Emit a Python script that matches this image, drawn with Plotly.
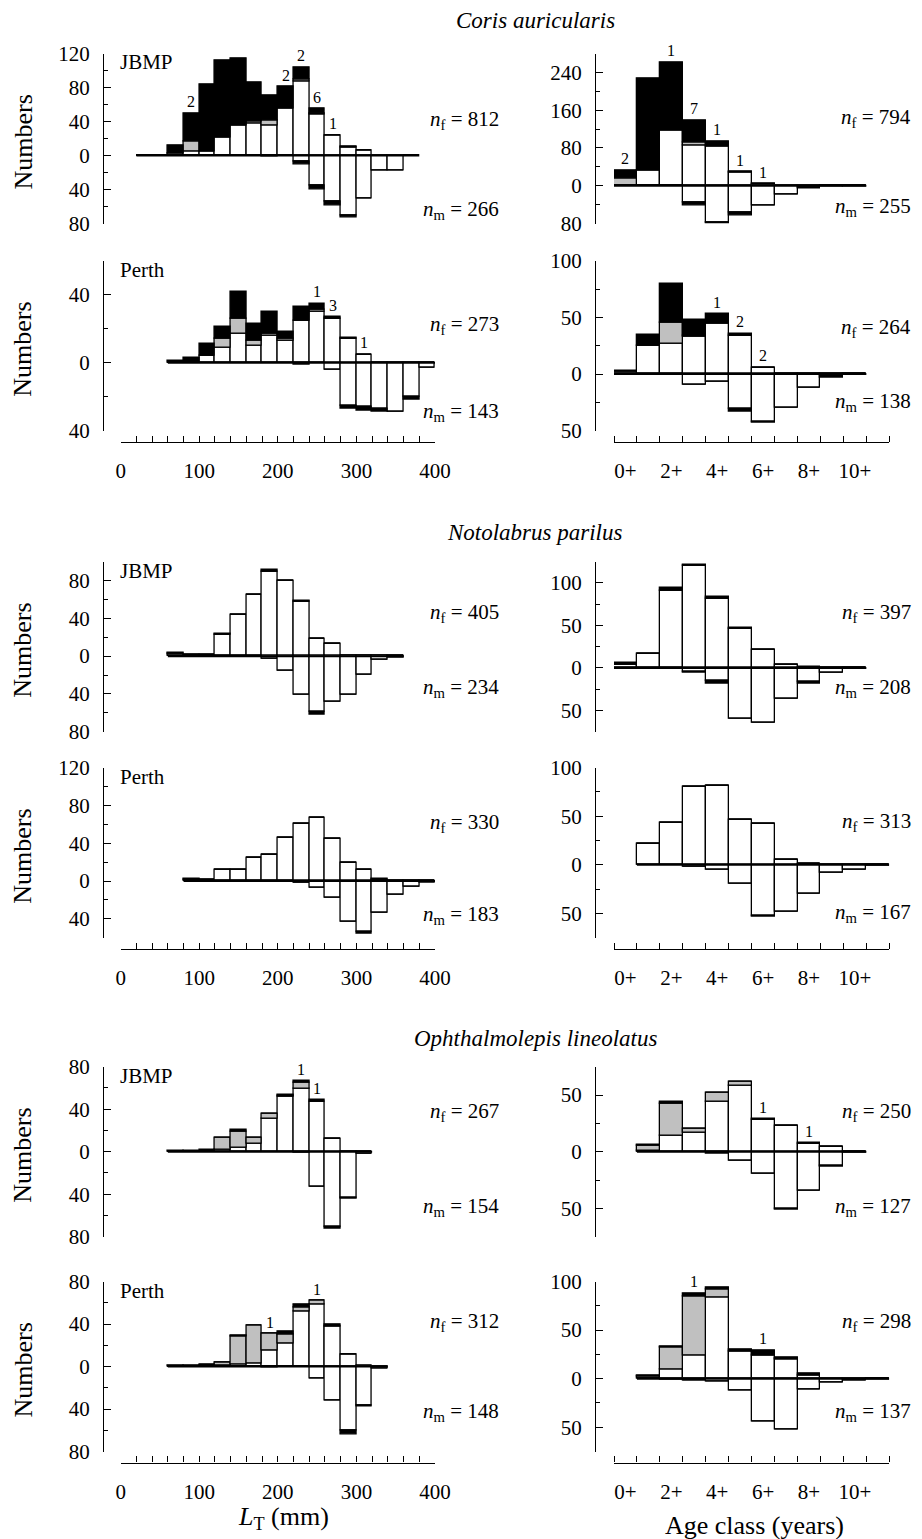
import plotly.graph_objects as go

W, H = 922, 1539
FONT = "Liberation Serif"
GREY = "#c0c0c0"

# ================= DATA =================
AGE_0_10 = [0, 1, 2, 3, 4, 5, 6, 7, 8, 9, 10]
AGE_1_10 = [1, 2, 3, 4, 5, 6, 7, 8, 9, 10]
AGE_1_11 = [1, 2, 3, 4, 5, 6, 7, 8, 9, 10, 11]
AGE_TICKS = [0, 2, 4, 6, 8, 10]
AGE_TICKTEXT = ["0+", "2+", "4+", "6+", "8+", "10+"]
LT_TICKS = [0, 100, 200, 300, 400]

# ---- Coris auricularis, JBMP, length (20-mm bins, left edges) ----
CA_JBMP_LT_BINS = [20, 40, 60, 80, 100, 120, 140, 160, 180, 200, 220, 240, 260, 280, 300, 320, 340, 360]
CA_JBMP_LT_F_WHITE = [0, 0, 2, 5, 5, 21, 35, 38, 35, 55, 87, 48, 24, 10, 6, 0, 0, 0]
CA_JBMP_LT_F_GREY = [0, 0, 0, 11, 0, 0, 0, 2, 6, 0, 3, 2, 0, 0, 0, 0, 0, 0]
CA_JBMP_LT_F_BLACK = [0, 0, 10, 34, 79, 91, 79, 46, 30, 26, 14, 5, 0, 1, 0, 0, 0, 0]
CA_JBMP_LT_M_WHITE = [0, 0, 0, 0, 0, 0, 0, 0, 0, 0, 7, 35, 54, 71, 50, 18, 18, 0]
CA_JBMP_LT_M_BLACK = [0, 0, 0, 0, 0, 0, 0, 0, 1, 0, 3, 5, 5, 2, 0, 0, 0, 0]
CA_JBMP_LT_NOTES = {80: "2", 200: "2", 220: "2", 240: "6", 260: "1"}
CA_JBMP_LT_N = (812, 266)

# ---- Coris auricularis, JBMP, age ----
CA_JBMP_AGE_F_WHITE = [1, 33, 117, 86, 83, 28, 3, 1, 0, 0, 0]
CA_JBMP_AGE_F_GREY = [14, 0, 0, 5, 0, 0, 0, 0, 0, 0, 0]
CA_JBMP_AGE_F_BLACK = [18, 195, 145, 48, 11, 2, 1, 0, 0, 0, 0]
CA_JBMP_AGE_M_WHITE = [0, 0, 0, 35, 78, 57, 42, 19, 3, 0, 0]
CA_JBMP_AGE_M_BLACK = [0, 0, 0, 7, 2, 7, 0, 0, 3, 2, 1]
CA_JBMP_AGE_NOTES = {0: "2", 2: "1", 3: "7", 4: "1", 5: "1", 6: "1"}
CA_JBMP_AGE_N = (794, 255)

# ---- Coris auricularis, Perth, length ----
CA_PER_LT_BINS = [60, 80, 100, 120, 140, 160, 180, 200, 220, 240, 260, 280, 300, 320, 340, 360, 380]
CA_PER_LT_F_WHITE = [0, 0, 4, 9, 17, 10, 16, 13, 25, 30, 26, 14, 5, 0, 0, 0, 0]
CA_PER_LT_F_GREY = [0, 0, 0, 5, 9, 3, 1, 1, 0, 1, 0, 0, 0, 0, 0, 0, 0]
CA_PER_LT_F_BLACK = [1, 3, 7, 7, 16, 10, 13, 4, 8, 4, 1, 1, 0, 0, 0, 0, 0]
CA_PER_LT_M_WHITE = [0, 0, 0, 0, 0, 0, 0, 0, 0, 0, 4, 25, 26, 27, 29, 20, 3]
CA_PER_LT_M_BLACK = [0, 0, 0, 0, 0, 0, 0, 0, 1, 0, 0, 2, 2, 2, 0, 2, 0]
CA_PER_LT_NOTES = {240: "1", 260: "3", 300: "1"}
CA_PER_LT_N = (273, 143)

# ---- Coris auricularis, Perth, age ----
CA_PER_AGE_F_WHITE = [0, 25, 27, 33, 44, 34, 6, 0, 0, 0, 0]
CA_PER_AGE_F_GREY = [2, 0, 18, 1, 1, 0, 0, 0, 0, 0, 0]
CA_PER_AGE_F_BLACK = [1, 10, 35, 14, 8, 2, 0, 0, 0, 0, 0]
CA_PER_AGE_M_WHITE = [0, 0, 0, 9, 7, 31, 42, 30, 12, 1, 0]
CA_PER_AGE_M_BLACK = [0, 0, 0, 0, 0, 2, 1, 0, 0, 2, 1]
CA_PER_AGE_NOTES = {4: "1", 5: "2", 6: "2"}
CA_PER_AGE_N = (264, 138)

# ---- Notolabrus parilus, JBMP, length ----
NP_JBMP_LT_BINS = [60, 80, 100, 120, 140, 160, 180, 200, 220, 240, 260, 280, 300, 320, 340]
NP_JBMP_LT_F_WHITE = [3, 2, 2, 23, 44, 65, 89, 80, 58, 18, 13, 1, 0, 0, 0]
NP_JBMP_LT_F_BLACK = [1, 0, 0, 1, 0, 0, 3, 0, 1, 0, 0, 0, 0, 0, 0]
NP_JBMP_LT_M_WHITE = [0, 0, 0, 0, 0, 0, 3, 15, 41, 59, 48, 41, 20, 4, 1]
NP_JBMP_LT_M_BLACK = [0, 0, 0, 0, 0, 1, 0, 0, 0, 3, 0, 0, 0, 0, 1]
NP_JBMP_LT_N = (405, 234)

# ---- Notolabrus parilus, JBMP, age ----
NP_JBMP_AGE_F_WHITE = [4, 17, 91, 120, 82, 46, 21, 4, 0, 0, 0]
NP_JBMP_AGE_F_BLACK = [2, 0, 3, 2, 2, 1, 0, 0, 1, 0, 0]
NP_JBMP_AGE_M_WHITE = [0, 0, 0, 4, 15, 60, 64, 36, 16, 5, 0]
NP_JBMP_AGE_M_BLACK = [0, 0, 0, 2, 3, 0, 0, 0, 2, 0, 1]
NP_JBMP_AGE_N = (397, 208)

# ---- Notolabrus parilus, Perth, length ----
NP_PER_LT_BINS = [80, 100, 120, 140, 160, 180, 200, 220, 240, 260, 280, 300, 320, 340, 360, 380]
NP_PER_LT_F_WHITE = [1, 1, 12, 12, 25, 28, 46, 61, 67, 45, 19, 12, 1, 0, 0, 0]
NP_PER_LT_F_BLACK = [1, 0, 0, 0, 0, 0, 0, 0, 0, 0, 0, 0, 1, 0, 0, 0]
NP_PER_LT_M_WHITE = [0, 0, 0, 0, 0, 0, 0, 2, 7, 18, 43, 54, 34, 14, 6, 1]
NP_PER_LT_M_BLACK = [0, 0, 0, 0, 0, 0, 0, 0, 0, 0, 0, 2, 0, 0, 0, 1]
NP_PER_LT_N = (330, 183)

# ---- Notolabrus parilus, Perth, age ----
NP_PER_AGE_F_WHITE = [22, 43, 80, 81, 46, 42, 5, 1, 0, 0, 0]
NP_PER_AGE_M_WHITE = [0, 0, 2, 5, 19, 52, 48, 30, 8, 5, 0]
NP_PER_AGE_M_BLACK = [0, 0, 0, 0, 0, 1, 0, 0, 0, 0, 1]
NP_PER_AGE_N = (313, 167)

# ---- Ophthalmolepis lineolatus, JBMP, length ----
OL_JBMP_LT_BINS = [60, 80, 100, 120, 140, 160, 180, 200, 220, 240, 260, 280, 300]
OL_JBMP_LT_F_WHITE = [0, 0, 0, 2, 4, 8, 31, 52, 59, 47, 12, 0, 0]
OL_JBMP_LT_F_GREY = [0, 0, 0, 11, 15, 5, 5, 1, 6, 0, 0, 0, 0]
OL_JBMP_LT_F_BLACK = [1, 1, 2, 0, 2, 0, 0, 1, 2, 2, 0, 0, 0]
OL_JBMP_LT_M_WHITE = [0, 0, 0, 0, 0, 0, 0, 0, 0, 33, 71, 43, 2]
OL_JBMP_LT_M_BLACK = [0, 0, 0, 0, 0, 0, 0, 0, 1, 0, 1, 1, 0]
OL_JBMP_LT_NOTES = {220: "1", 240: "1"}
OL_JBMP_LT_N = (267, 154)

# ---- Ophthalmolepis lineolatus, JBMP, age ----
OL_JBMP_AGE_F_WHITE = [1, 14, 17, 44, 58, 28, 23, 7, 4, 0]
OL_JBMP_AGE_F_GREY = [4, 28, 3, 8, 4, 0, 0, 0, 0, 0]
OL_JBMP_AGE_F_BLACK = [1, 2, 0, 0, 0, 1, 0, 1, 0, 0]
OL_JBMP_AGE_M_WHITE = [0, 0, 0, 0, 8, 19, 50, 34, 12, 0]
OL_JBMP_AGE_M_BLACK = [0, 0, 0, 2, 0, 0, 1, 0, 1, 1]
OL_JBMP_AGE_NOTES = {6: "1", 8: "1"}
OL_JBMP_AGE_N = (250, 127)

# ---- Ophthalmolepis lineolatus, Perth, length ----
OL_PER_LT_BINS = [60, 80, 100, 120, 140, 160, 180, 200, 220, 240, 260, 280, 300, 320]
OL_PER_LT_F_WHITE = [0, 0, 1, 1, 2, 3, 15, 22, 52, 58, 38, 11, 0, 0]
OL_PER_LT_F_GREY = [0, 0, 0, 3, 26, 36, 16, 8, 4, 4, 0, 0, 0, 0]
OL_PER_LT_F_BLACK = [1, 1, 1, 0, 1, 0, 0, 3, 2, 0, 2, 0, 1, 0]
OL_PER_LT_M_WHITE = [0, 0, 0, 0, 0, 0, 0, 0, 0, 11, 32, 60, 37, 2]
OL_PER_LT_M_BLACK = [0, 0, 0, 0, 0, 0, 1, 0, 0, 0, 0, 4, 1, 0]
OL_PER_LT_NOTES = {180: "1", 240: "1"}
OL_PER_LT_N = (312, 148)

# ---- Ophthalmolepis lineolatus, Perth, age ----
OL_PER_AGE_F_WHITE = [2, 9, 24, 84, 28, 24, 20, 3, 0, 0, 0]
OL_PER_AGE_F_GREY = [0, 23, 61, 8, 0, 0, 1, 0, 0, 0, 0]
OL_PER_AGE_F_BLACK = [1, 1, 3, 2, 2, 5, 1, 2, 0, 0, 0]
OL_PER_AGE_M_WHITE = [0, 1, 2, 3, 12, 44, 52, 11, 4, 2, 0]
OL_PER_AGE_M_BLACK = [0, 0, 0, 0, 0, 0, 0, 0, 0, 0, 1]
OL_PER_AGE_NOTES = {3: "1", 6: "1"}
OL_PER_AGE_N = (298, 137)

SPECIES = ["Coris auricularis", "Notolabrus parilus", "Ophthalmolepis lineolatus"]

# ================= LAYOUT GEOMETRY (page pixels) =================
PAGE_OFFSET = 8  # default body margin of the html page
ROW_TOP = [53.5, 260.7, 561.7, 767.7, 1066.7, 1281.5]
PANEL_H = 170
XAXIS_GAP = 11
COLS = {
    0: dict(yaxis_x=103, x0=120.7, x1=435, rng=[0, 400], nx=501),
    1: dict(yaxis_x=595, x0=614, x1=889.3, rng=[-0.5, 11.5], nx=913),
}
TITLE_Y = [21, 533, 1038]

PANELS = [
    dict(row=0, col=0, kind="len", bins=CA_JBMP_LT_BINS, fw=CA_JBMP_LT_F_WHITE, fg=CA_JBMP_LT_F_GREY,
         fb=CA_JBMP_LT_F_BLACK, mw=CA_JBMP_LT_M_WHITE, mb=CA_JBMP_LT_M_BLACK, notes=CA_JBMP_LT_NOTES,
         n=CA_JBMP_LT_N, yr=[-80, 120], ylab=[-80, -40, 0, 40, 80, 120], ystep=20, ny=(120, 210), site="JBMP"),
    dict(row=0, col=1, kind="age", bins=AGE_0_10, fw=CA_JBMP_AGE_F_WHITE, fg=CA_JBMP_AGE_F_GREY,
         fb=CA_JBMP_AGE_F_BLACK, mw=CA_JBMP_AGE_M_WHITE, mb=CA_JBMP_AGE_M_BLACK, notes=CA_JBMP_AGE_NOTES,
         n=CA_JBMP_AGE_N, yr=[-80, 280], ylab=[-80, 0, 80, 160, 240], ystep=40, ny=(118, 207)),
    dict(row=1, col=0, kind="len", bins=CA_PER_LT_BINS, fw=CA_PER_LT_F_WHITE, fg=CA_PER_LT_F_GREY,
         fb=CA_PER_LT_F_BLACK, mw=CA_PER_LT_M_WHITE, mb=CA_PER_LT_M_BLACK, notes=CA_PER_LT_NOTES,
         n=CA_PER_LT_N, yr=[-40, 60], ylab=[-40, 0, 40], ystep=20, ny=(325, 412), site="Perth", xshow=True),
    dict(row=1, col=1, kind="age", bins=AGE_0_10, fw=CA_PER_AGE_F_WHITE, fg=CA_PER_AGE_F_GREY,
         fb=CA_PER_AGE_F_BLACK, mw=CA_PER_AGE_M_WHITE, mb=CA_PER_AGE_M_BLACK, notes=CA_PER_AGE_NOTES,
         n=CA_PER_AGE_N, yr=[-50, 100], ylab=[-50, 0, 50, 100], ystep=25, ny=(328, 402), xshow=True),
    dict(row=2, col=0, kind="len", bins=NP_JBMP_LT_BINS, fw=NP_JBMP_LT_F_WHITE, fg=None,
         fb=NP_JBMP_LT_F_BLACK, mw=NP_JBMP_LT_M_WHITE, mb=NP_JBMP_LT_M_BLACK, notes={},
         n=NP_JBMP_LT_N, yr=[-80, 100], ylab=[-80, -40, 0, 40, 80], ystep=20, ny=(613, 688), site="JBMP"),
    dict(row=2, col=1, kind="age", bins=AGE_0_10, fw=NP_JBMP_AGE_F_WHITE, fg=None,
         fb=NP_JBMP_AGE_F_BLACK, mw=NP_JBMP_AGE_M_WHITE, mb=NP_JBMP_AGE_M_BLACK, notes={},
         n=NP_JBMP_AGE_N, yr=[-75, 125], ylab=[-50, 0, 50, 100], ystep=25, ny=(613, 688)),
    dict(row=3, col=0, kind="len", bins=NP_PER_LT_BINS, fw=NP_PER_LT_F_WHITE, fg=None,
         fb=NP_PER_LT_F_BLACK, mw=NP_PER_LT_M_WHITE, mb=NP_PER_LT_M_BLACK, notes={},
         n=NP_PER_LT_N, yr=[-60, 120], ylab=[-40, 0, 40, 80, 120], ystep=20, ny=(823, 915), site="Perth", xshow=True),
    dict(row=3, col=1, kind="age", bins=AGE_1_11, fw=NP_PER_AGE_F_WHITE, fg=None,
         fb=None, mw=NP_PER_AGE_M_WHITE, mb=NP_PER_AGE_M_BLACK, notes={},
         n=NP_PER_AGE_N, yr=[-75, 100], ylab=[-50, 0, 50, 100], ystep=25, ny=(822, 913), xshow=True),
    dict(row=4, col=0, kind="len", bins=OL_JBMP_LT_BINS, fw=OL_JBMP_LT_F_WHITE, fg=OL_JBMP_LT_F_GREY,
         fb=OL_JBMP_LT_F_BLACK, mw=OL_JBMP_LT_M_WHITE, mb=OL_JBMP_LT_M_BLACK, notes=OL_JBMP_LT_NOTES,
         n=OL_JBMP_LT_N, yr=[-80, 80], ylab=[-80, -40, 0, 40, 80], ystep=20, ny=(1112, 1207), site="JBMP"),
    dict(row=4, col=1, kind="age", bins=AGE_1_10, fw=OL_JBMP_AGE_F_WHITE, fg=OL_JBMP_AGE_F_GREY,
         fb=OL_JBMP_AGE_F_BLACK, mw=OL_JBMP_AGE_M_WHITE, mb=OL_JBMP_AGE_M_BLACK, notes=OL_JBMP_AGE_NOTES,
         n=OL_JBMP_AGE_N, yr=[-75, 75], ylab=[-50, 0, 50], ystep=25, ny=(1112, 1207)),
    dict(row=5, col=0, kind="len", bins=OL_PER_LT_BINS, fw=OL_PER_LT_F_WHITE, fg=OL_PER_LT_F_GREY,
         fb=OL_PER_LT_F_BLACK, mw=OL_PER_LT_M_WHITE, mb=OL_PER_LT_M_BLACK, notes=OL_PER_LT_NOTES,
         n=OL_PER_LT_N, yr=[-80, 80], ylab=[-80, -40, 0, 40, 80], ystep=20, ny=(1322, 1412), site="Perth", xshow=True),
    dict(row=5, col=1, kind="age", bins=AGE_1_11, fw=OL_PER_AGE_F_WHITE, fg=OL_PER_AGE_F_GREY,
         fb=OL_PER_AGE_F_BLACK, mw=OL_PER_AGE_M_WHITE, mb=OL_PER_AGE_M_BLACK, notes=OL_PER_AGE_NOTES,
         n=OL_PER_AGE_N, yr=[-75, 100], ylab=[-50, 0, 50, 100], ystep=25, ny=(1322, 1412), xshow=True),
]


def fx(px):
    return (px - PAGE_OFFSET) / W


def fy(px):
    return 1 - (px - PAGE_OFFSET) / H


fig = go.Figure()
annotations = []
layout = {}
LINE_W = 1.3
TICK_FONT = dict(family=FONT, size=21, color="black")

for k, p in enumerate(PANELS, start=1):
    xref = "x" if k == 1 else f"x{k}"
    yref = "y" if k == 1 else f"y{k}"
    xkey = "xaxis" if k == 1 else f"xaxis{k}"
    ykey = "yaxis" if k == 1 else f"yaxis{k}"
    c = COLS[p["col"]]
    top = ROW_TOP[p["row"]]
    bot = top + PANEL_H
    nb = len(p["bins"])
    zeros = [0] * nb
    if p["kind"] == "len":
        cx = [b + 10 for b in p["bins"]]
        bw = 20
        zx = [p["bins"][0], p["bins"][-1] + 20]
    else:
        cx = list(p["bins"])
        bw = 1
        zx = [p["bins"][0] - 0.5, p["bins"][-1] + 0.5]
    fw = p["fw"]
    fg = p["fg"] if p["fg"] is not None else zeros
    fb = p["fb"] if p["fb"] is not None else zeros
    mw = p["mw"]
    mb = p["mb"] if p["mb"] is not None else zeros
    base_b = [a + b for a, b in zip(fw, fg)]
    segs = [
        (fw, zeros, "white"),
        (fg, fw, GREY),
        (fb, base_b, "black"),
        ([-v for v in mw], zeros, "white"),
        ([-v for v in mb], [-v for v in mw], "black"),
    ]
    for yv, base, col in segs:
        fig.add_trace(go.Bar(
            x=cx, y=yv, base=base, width=bw, xaxis=xref, yaxis=yref,
            marker=dict(color=col, line=dict(color="black", width=LINE_W)),
            hoverinfo="skip", showlegend=False))
    fig.add_trace(go.Scatter(
        x=zx, y=[0, 0], mode="lines", xaxis=xref, yaxis=yref,
        line=dict(color="black", width=2), hoverinfo="skip", showlegend=False))

    # count labels above bars
    for b, txt in p["notes"].items():
        i = p["bins"].index(b)
        annotations.append(dict(
            x=cx[i], y=fw[i] + fg[i] + fb[i], xref=xref, yref=yref, text=txt,
            showarrow=False, yanchor="bottom", yshift=1,
            font=dict(family=FONT, size=16, color="black")))

    # y axis
    layout[ykey] = dict(
        domain=[fy(bot), fy(top)], range=p["yr"], anchor="free", position=fx(c["yaxis_x"]),
        showline=True, linecolor="black", linewidth=LINE_W, mirror=False,
        tickmode="array", tickvals=p["ylab"], ticktext=[str(abs(v)) for v in p["ylab"]],
        ticks="inside", ticklen=7, tickwidth=LINE_W, tickcolor="black",
        minor=dict(tick0=0, dtick=p["ystep"], ticks="inside", ticklen=4, tickwidth=LINE_W,
                   tickcolor="black", showgrid=False),
        showgrid=False, zeroline=False, tickfont=TICK_FONT, ticklabelstandoff=9,
        automargin=False, fixedrange=True)

    # x axis
    xa = dict(domain=[fx(c["x0"]), fx(c["x1"])], range=c["rng"], showgrid=False, zeroline=False,
              automargin=False, fixedrange=True)
    if p.get("xshow"):
        xa.update(anchor="free", position=fy(bot + XAXIS_GAP), showline=True, linecolor="black",
                  linewidth=LINE_W, tickfont=TICK_FONT, ticklabelstandoff=10)
        if p["kind"] == "len":
            xa.update(tickmode="array", tickvals=LT_TICKS, ticks="inside", ticklen=6,
                      tickwidth=LINE_W, tickcolor="black",
                      minor=dict(tick0=0, dtick=20, ticks="inside", ticklen=6, tickwidth=LINE_W,
                                 tickcolor="black", showgrid=False))
        else:
            xa.update(tickmode="array", tickvals=AGE_TICKS, ticktext=AGE_TICKTEXT, ticks="",
                      minor=dict(tick0=-0.5, dtick=1, ticks="inside", ticklen=6, tickwidth=LINE_W,
                                 tickcolor="black", showgrid=False))
    else:
        xa.update(anchor=yref, visible=False)
    layout[xkey] = xa

    # n labels
    nf, nm = p["n"]
    annotations.append(dict(
        x=fx(c["nx"]), y=fy(p["ny"][0]), xref="paper", yref="paper", xanchor="right", yanchor="middle",
        text=f"<i>n</i><sub>f</sub> = {nf}", showarrow=False,
        font=dict(family=FONT, size=21, color="black")))
    annotations.append(dict(
        x=fx(c["nx"]), y=fy(p["ny"][1]), xref="paper", yref="paper", xanchor="right", yanchor="middle",
        text=f"<i>n</i><sub>m</sub> = {nm}", showarrow=False,
        font=dict(family=FONT, size=21, color="black")))

    if p["col"] == 0:
        annotations.append(dict(
            x=fx(118), y=fy(top + 9), xref="paper", yref="paper", xanchor="left", yanchor="middle",
            text=p["site"], showarrow=False, font=dict(family=FONT, size=21, color="black")))
        annotations.append(dict(
            x=fx(23), y=fy(top + PANEL_H / 2 + 4), xref="paper", yref="paper", xanchor="center",
            yanchor="middle", text="Numbers", textangle=-90, showarrow=False,
            font=dict(family=FONT, size=26, color="black")))

for name, ty in zip(SPECIES, TITLE_Y):
    annotations.append(dict(
        x=fx(535), y=fy(ty), xref="paper", yref="paper", xanchor="center", yanchor="middle",
        text=f"<i>{name}</i>", showarrow=False, font=dict(family=FONT, size=23, color="black")))

annotations.append(dict(
    x=fx(283), y=fy(1518), xref="paper", yref="paper", xanchor="center", yanchor="middle",
    text="<i>L</i><sub>T</sub> (mm)", showarrow=False, font=dict(family=FONT, size=26, color="black")))
annotations.append(dict(
    x=fx(754), y=fy(1525), xref="paper", yref="paper", xanchor="center", yanchor="middle",
    text="Age class (years)", showarrow=False, font=dict(family=FONT, size=26, color="black")))

fig.update_layout(
    width=W, height=H, margin=dict(l=0, r=0, t=0, b=0, pad=0, autoexpand=False),
    paper_bgcolor="white", plot_bgcolor="white", barmode="overlay", bargap=0,
    showlegend=False, annotations=annotations, font=dict(family=FONT, color="black"),
    **layout)

fig.write_html("out.html")
